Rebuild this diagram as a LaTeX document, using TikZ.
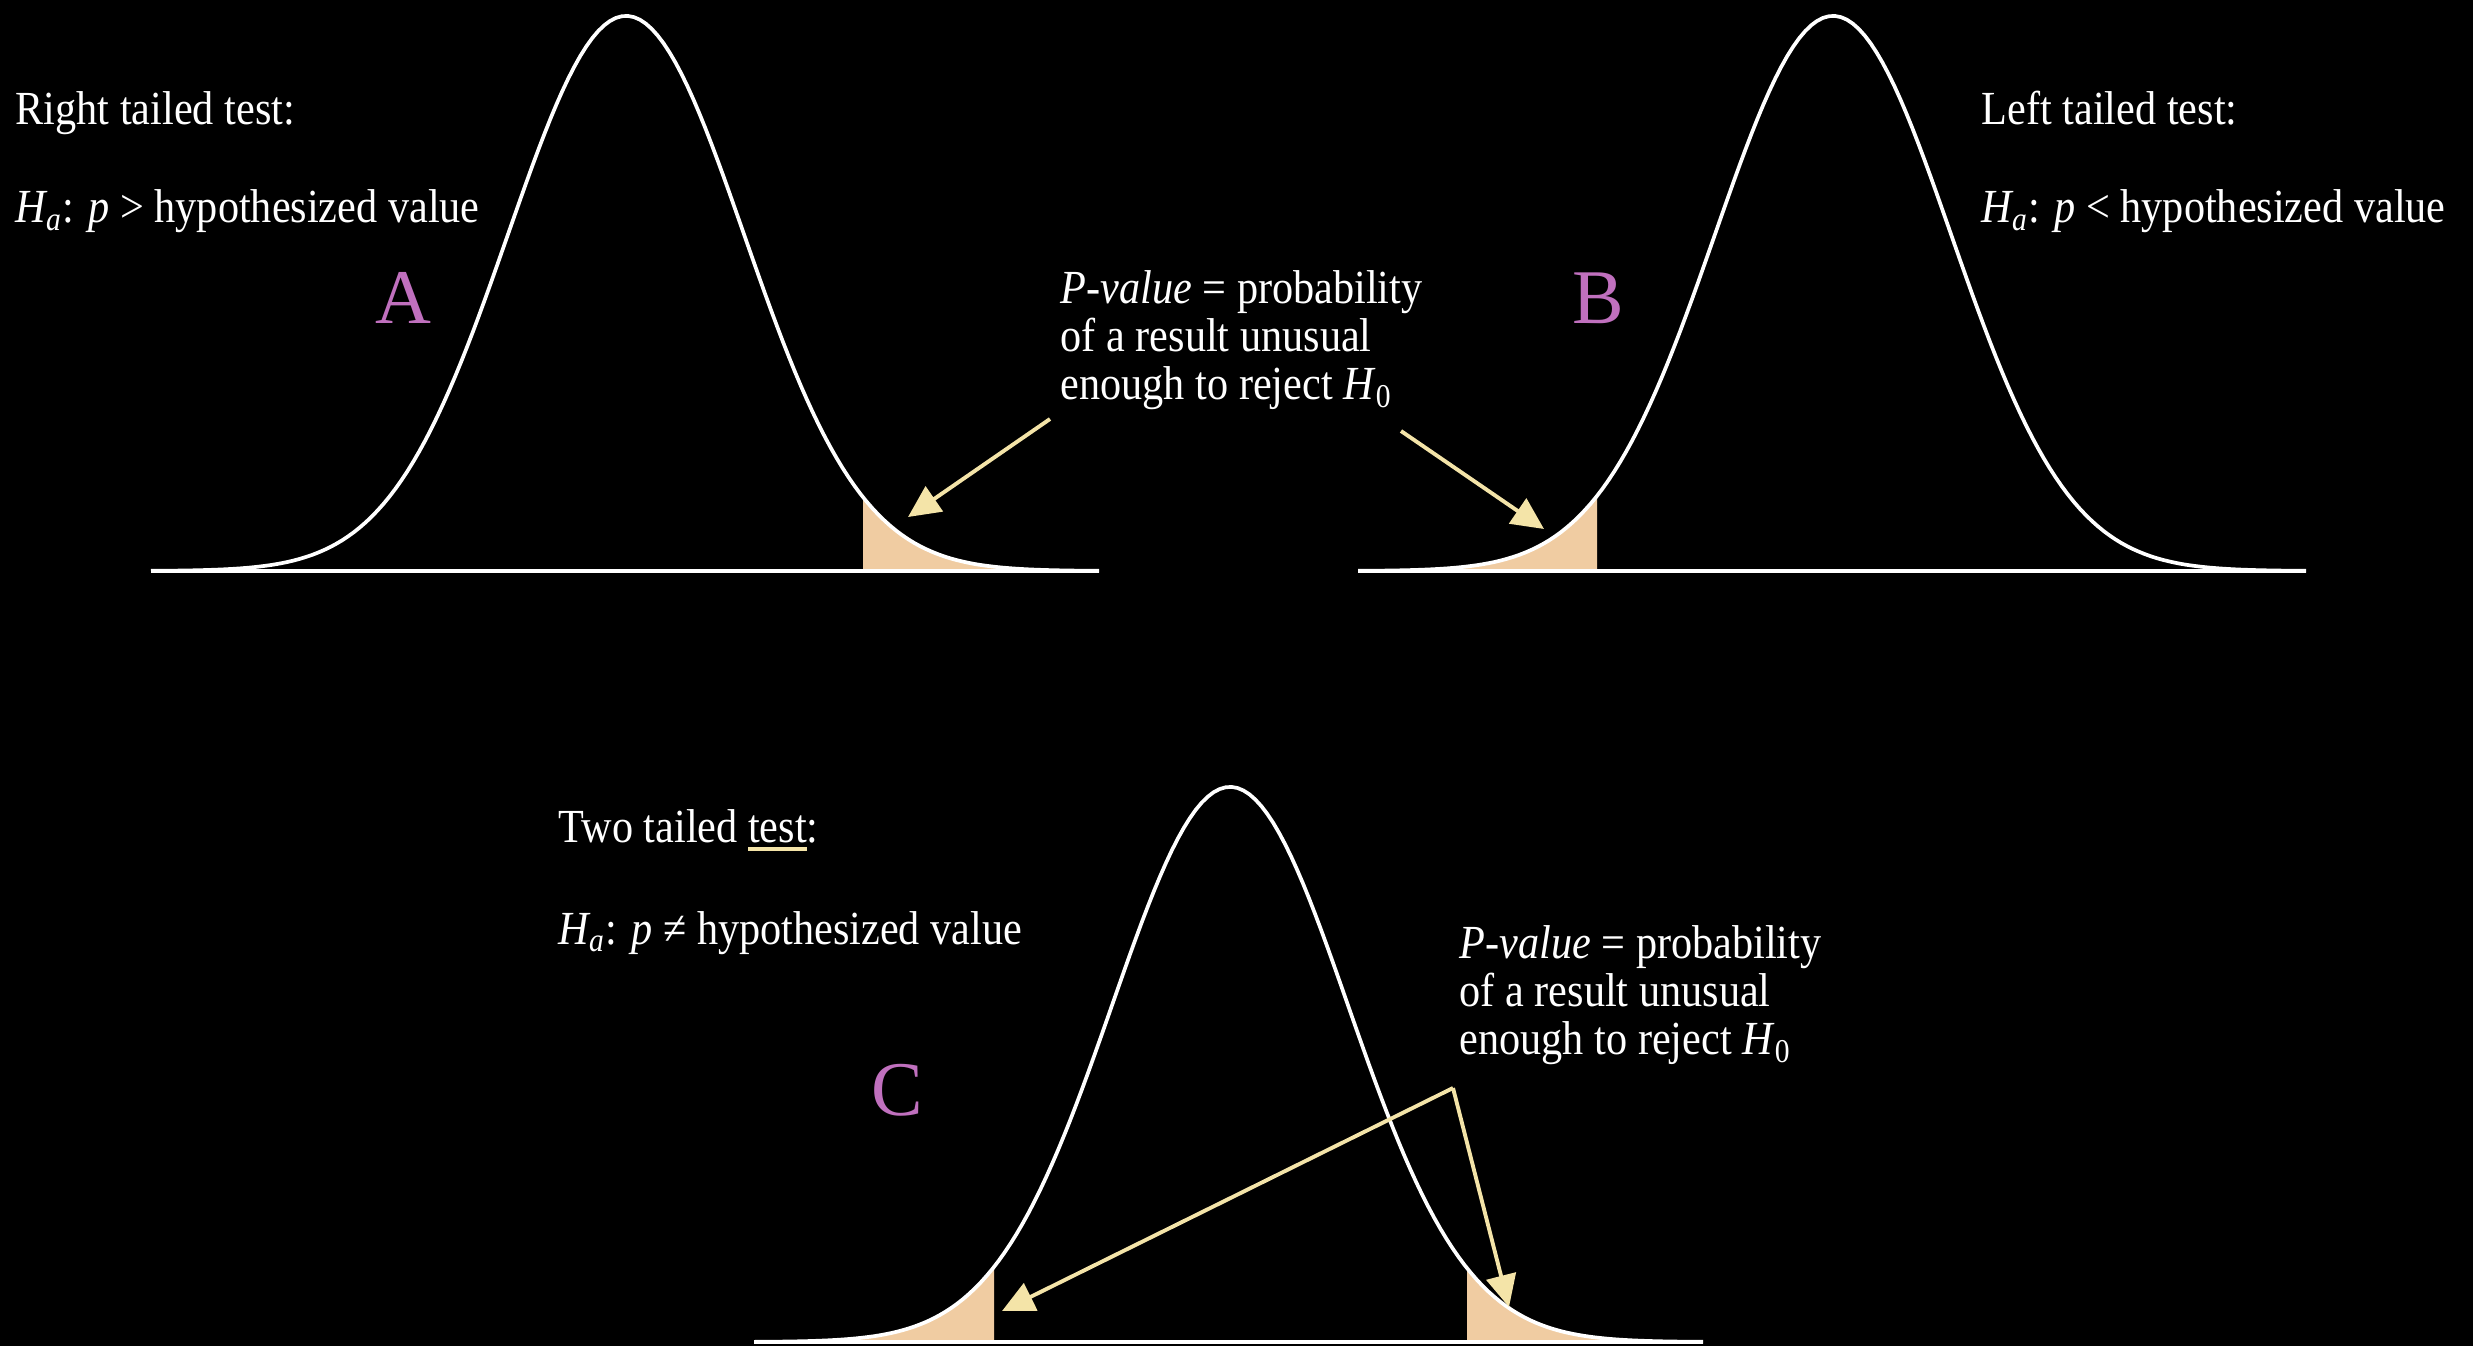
\documentclass[tikz,border=0pt]{standalone}
\usepackage{fontspec}
\setmainfont{Liberation Serif}[FakeStretch=0.89]
\newfontfamily\letterfont{Liberation Serif}
\usetikzlibrary{arrows.meta}
\definecolor{tailfill}{RGB}{240,204,162}
\definecolor{arrowyellow}{RGB}{244,228,168}
\definecolor{orchid}{RGB}{192,112,190}
\newcommand{\markword}[1]{{\setbox0\hbox{#1}\rlap{\color{arrowyellow}\rule[-2.6pt]{\wd0}{1.1pt}}\box0}}
\tikzset{
    curve/.style={white, line width=1.05pt},
    axis/.style={white, line width=0.9pt},
    tail/.style={fill=tailfill, draw=none},
    heading/.style={white, inner sep=0pt, anchor=base west, font=\fontsize{13.5}{13.7}\selectfont},
    note/.style={heading, align=left, anchor=west},
    letter/.style={orchid, inner sep=0pt, anchor=base, font=\letterfont\fontsize{22}{22}\selectfont},
    pointer/.style={-{Triangle[length=3.2mm, width=3mm]}, arrowyellow, line width=1.1pt},
}

\begin{document}
\begin{tikzpicture}[x=0.01cm, y=-0.01cm,
    declare function={bell(\x,\c)=555*exp(-0.5*((\x-\c)/118)*((\x-\c)/118));}]
    \fill[black] (0,0) rectangle (2473,1346);
    \useasboundingbox (0,0) rectangle (2473,1346);

    % A: right tail
    \fill[tail] (863,571) -- plot[domain=863:1099, samples=60] (\x,{571-bell(\x,626)}) -- cycle;
    \draw[axis] (151,571) -- (1099,571);
    \draw[curve] plot[domain=151:1099, samples=160] (\x,{571-bell(\x,626)});
    \node[heading] (headA) at (15,125) {Right tailed test:};
    \node[heading] (hypA) at (15,223) {\textit{H\textsubscript{a}}: \textit{p} > hypothesized value};
    \node[letter] (letA) at (403,324) {A};
    \node[note] (noteA) at (1060,340) {\textit{P-value} = probability\\of a result unusual\\enough to reject \textit{H}\textsubscript{0}};
    \coordinate (srcA) at (1050,419);
    \coordinate (tipA) at (908,517);
    \draw[pointer] (srcA) -- (tipA);

    % B: left tail
    \fill[tail] (1358,571) -- plot[domain=1358:1597, samples=60] (\x,{571-bell(\x,1833)}) -- (1597,571) -- cycle;
    \draw[axis] (1358,571) -- (2306,571);
    \draw[curve] plot[domain=1358:2306, samples=160] (\x,{571-bell(\x,1833)});
    \node[heading] (headB) at (1981,125) {Left tailed test:};
    \node[heading] (hypB) at (1981,223) {\textit{H\textsubscript{a}}: \textit{p} < hypothesized value};
    \node[letter] (letB) at (1598,324) {B};
    \coordinate (srcB) at (1401,431);
    \coordinate (tipB) at (1544,529);
    \draw[pointer] (srcB) -- (tipB);

    % C: two tails
    \fill[tail] (754,1342) -- plot[domain=754:994, samples=60] (\x,{1342-bell(\x,1230)}) -- (994,1342) -- cycle;
    \fill[tail] (1467,1342) -- plot[domain=1467:1703, samples=60] (\x,{1342-bell(\x,1230)}) -- cycle;
    \draw[axis] (754,1342) -- (1703,1342);
    \draw[curve] plot[domain=754:1703, samples=160] (\x,{1342-bell(\x,1230)});
    \node[heading] (headC) at (558,842) {Two tailed \markword{test}:};
    \node[heading] (hypC) at (558,944) {\textit{H\textsubscript{a}}: \textit{p} \char"2260{} hypothesized value};
    \node[letter] (letC) at (897,1115) {C};
    \node[note] (noteC) at (1459,995) {\textit{P-value} = probability\\of a result unusual\\enough to reject \textit{H}\textsubscript{0}};
    \coordinate (forkC) at (1453,1088);
    \coordinate (tipCl) at (1002,1311);
    \coordinate (tipCr) at (1509,1307);
    \draw[pointer] (forkC) -- (tipCl);
    \draw[pointer] (forkC) -- (tipCr);
\end{tikzpicture}
\end{document}
